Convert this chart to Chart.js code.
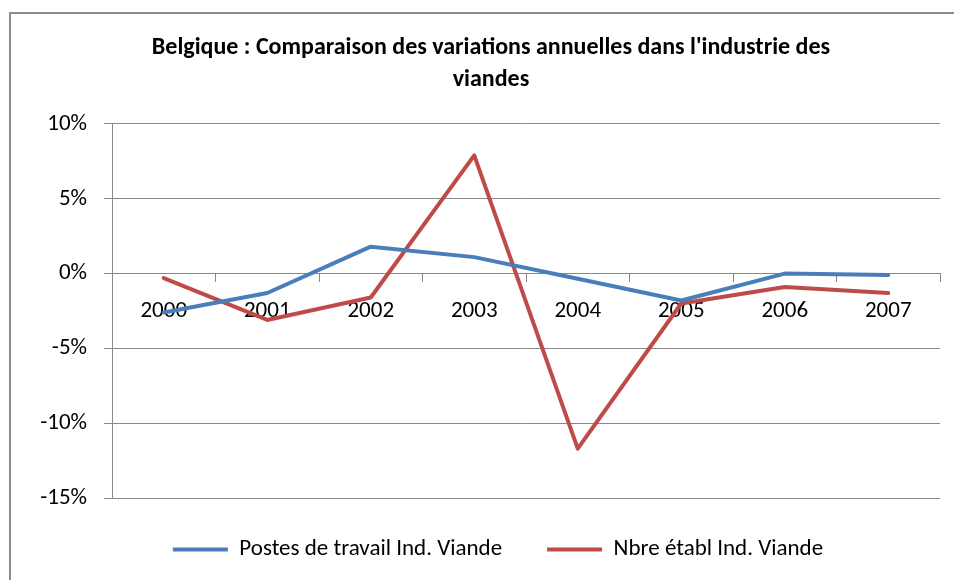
<!DOCTYPE html>
<html>
<head>
<meta charset="utf-8">
<script src="https://cdn.jsdelivr.net/npm/chart.js@4.4.1/dist/chart.umd.min.js"></script>
<style>
  html, body { margin: 0; padding: 0; background: #fff; overflow: hidden; }
  #frame { position: absolute; left: 9px; top: 12px; width: 2000px; height: 2000px;
           border-left: 2px solid #8c8c8c; border-top: 2px solid #8c8c8c; }
  #wrap { position: absolute; left: 0; top: 0; width: 954px; height: 580px; }
</style>
</head>
<body>
<div id="frame"></div>
<div id="wrap"><canvas id="lineChart" width="954" height="580"></canvas></div>
<script>
const years = ['2000', '2001', '2002', '2003', '2004', '2005', '2006', '2007'];
const postesTravail = [-2.6, -1.3, 1.8, 1.1, -0.35, -1.8, 0.0, -0.1];
const nbreEtabl = [-0.3, -3.1, -1.6, 7.9, -11.7, -2.0, -0.9, -1.3];
const yTicks = [10, 5, 0, -5, -10, -15];

const fontFamily = "Carlito, Calibri, 'Liberation Sans', sans-serif";
const gridColor = '#878787';

// nudge legend and title like the original layout
const shiftBoxes = {
    id: 'shiftBoxes',
    afterLayout: function(chart) {
        if (chart.legend) {
            chart.legend.left += 28;
            chart.legend.right += 28;
            chart.legend.top -= 5;
        }
        if (chart.titleBlock) {
            chart.titleBlock.left += 21;
            chart.titleBlock.right += 21;
        }
    }
};

var ctx = document.getElementById('lineChart').getContext('2d');
const lineChart = new Chart(ctx, {
    type: 'line',
    data: {
        labels: years,
        datasets: [{
            label: 'Postes de travail Ind. Viande',
            data: postesTravail,
            borderColor: '#4a7ebb',
            backgroundColor: '#4a7ebb',
            borderWidth: 4,
            pointRadius: 0,
            tension: 0,
            borderJoinStyle: 'round',
            borderCapStyle: 'round'
        }, {
            label: 'Nbre établ Ind. Viande',
            data: nbreEtabl,
            borderColor: '#be4b48',
            backgroundColor: '#be4b48',
            borderWidth: 4,
            pointRadius: 0,
            tension: 0,
            borderJoinStyle: 'round',
            borderCapStyle: 'round'
        }]
    },
    options: {
        responsive: false,
        animation: false,
        layout: {
            padding: { left: 0, right: 14, top: 0, bottom: 4 }
        },
        scales: {
            x: {
                position: { y: 0 },
                offset: true,
                grid: {
                    offset: true,
                    drawOnChartArea: false,
                    drawTicks: true,
                    tickLength: 8,
                    color: gridColor
                },
                border: { color: gridColor, width: 1 },
                ticks: {
                    color: '#000',
                    padding: 16,
                    maxRotation: 0,
                    font: { family: fontFamily, size: 23 }
                }
            },
            y: {
                min: -15,
                max: 10,
                afterFit: function(scale) {
                    scale.width = 112;
                },
                afterBuildTicks: function(scale) {
                    scale.ticks = yTicks.map(v => ({ value: v }));
                },
                grid: {
                    color: gridColor,
                    tickLength: 8
                },
                border: { color: gridColor, width: 1 },
                ticks: {
                    color: '#000',
                    padding: 17,
                    font: { family: fontFamily, size: 23 },
                    callback: function(value) {
                        return value + '%';
                    }
                }
            }
        },
        plugins: {
            title: {
                display: true,
                text: ["Belgique : Comparaison des variations annuelles dans l'industrie des", 'viandes'],
                color: '#000',
                font: { family: fontFamily, size: 24, weight: 'bold', lineHeight: 1.333 },
                padding: { top: 32, bottom: 28 }
            },
            legend: {
                display: true,
                position: 'bottom',
                labels: {
                    color: '#000',
                    usePointStyle: true,
                    pointStyle: 'line',
                    pointStyleWidth: 55,
                    padding: 45,
                    font: { family: fontFamily, size: 23 }
                }
            },
            tooltip: { enabled: false }
        }
    },
    plugins: [shiftBoxes]
});
</script>
</body>
</html>
